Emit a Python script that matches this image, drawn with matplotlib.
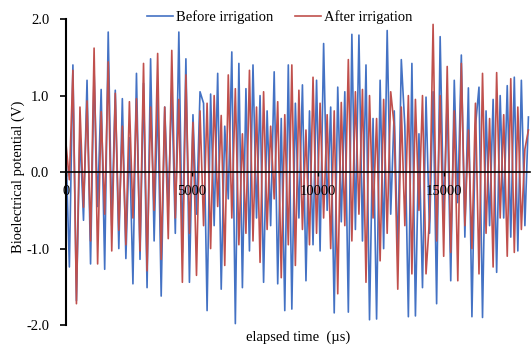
import numpy as np
import matplotlib
matplotlib.use("Agg")
import matplotlib.pyplot as plt

plt.rcParams['font.family'] = ['Liberation Serif', 'DejaVu Serif']

# sampling step of the recorded signals (µs)
step_us = 140

before = [0.35, -1.24, 1.40, -1.68, 0.52, -0.63, 1.20, -1.20, 1.32, -0.45,
          1.08, -1.27, 1.83, -0.70, 1.07, -1.00, 0.96, -1.13, 0.45, -1.46,
          1.29, -1.14, 1.16, -1.51, 1.48, -0.90, 1.00, -1.62, 0.85, -0.45,
          1.10, -0.80, 1.83, -1.05, 1.48, -1.44, 0.75, -0.55, 1.05, 0.90,
          -1.81, 1.02, -0.70, 1.29, -1.53, 0.60, -0.35, 1.57, -1.98, 1.42,
          -1.51, 1.09, -1.03, 1.40, -0.60, 1.00, -1.44, 0.80, -0.70, 1.31,
          -1.46, 0.70, -1.81, 1.40, -1.79, 0.90, -0.60, 1.14, -1.42, 0.80,
          -0.95, 1.20, -1.03, 1.68, -0.50, 0.85, -1.84, 1.11, -0.65, 1.05,
          -1.83, 1.80, -0.75, 1.79, -0.90, 1.40, -1.93, 0.70, -1.92, 1.20,
          -1.00, 1.85, -0.55, 0.80, -1.10, 1.47, 0.60, -1.89, 1.42, -1.88,
          0.50, -1.51, 0.98, -0.80, 1.05, -1.72, 1.77, -0.60, 0.95, -1.42,
          1.20, -0.40, 1.53, -0.85, 1.10, -1.89, 0.60, 1.11, -1.90, 0.80,
          -0.70, 0.95, -1.31, 1.00, -0.60, 1.13, -0.85, 1.24, -1.03, 1.20,
          -0.70, 0.72]

after = [0.39, -0.10, 1.33, -1.72, 0.85, -0.46, 0.93, -0.90, 1.62, -1.20,
         0.79, -0.55, 1.44, -1.03, 1.03, -0.76, 0.60, -0.95, 0.92, -0.60,
         0.96, -1.03, 1.42, -1.29, 0.85, -0.50, 1.55, -1.14, 0.85, -0.87,
         1.59, -0.60, 0.95, -1.44, 1.27, -0.80, 0.65, -1.35, 0.80, -0.70,
         0.90, -1.00, 1.00, -0.45, 0.74, -1.22, 1.27, -0.60, 1.09, -0.95,
         0.50, -0.80, 1.33, -0.90, 0.85, -1.18, 1.05, -0.75, 0.60, -0.35,
         0.92, -1.38, 0.75, -0.95, 1.40, -1.22, 1.07, -0.75, 0.55, -0.95,
         1.24, -0.80, 0.90, -0.60, 0.75, -1.00, 0.80, -1.59, 0.91, -0.70,
         1.47, -0.90, 1.05, -0.55, 1.08, -1.44, 1.00, -0.60, 0.70, -1.16,
         0.95, -0.80, 1.05, 0.60, -1.53, 0.85, -0.70, 1.00, -1.33, 0.95,
         -0.50, 1.00, -1.33, -0.60, 1.93, -0.90, 1.00, -1.10, 1.38, -1.05,
         0.80, -1.42, 1.42, -0.70, 0.55, -1.00, 0.90, -1.33, 1.29, -0.80,
         0.70, -1.24, 1.30, -0.60, 0.75, -1.10, 1.22, -1.05, 0.85, -0.75,
         0.30, 0.55]

x_ticks = [0, 5000, 10000, 15000]
y_ticks = [-2.0, -1.0, 0.0, 1.0, 2.0]

t_before = np.arange(len(before)) * step_us
t_after = np.arange(len(after)) * step_us

fig = plt.figure(figsize=(5.31, 3.53), dpi=100)
ax = fig.add_axes([0.124, 0.079, 0.874, 0.867])
ax.set_axisbelow(False)

ax.plot(t_before, before, color='#4472C4', lw=1.2, label='Before irrigation')
ax.plot(t_after, after, color='#C0504D', lw=1.2, label='After irrigation')

ax.set_xlim(0, 18400)
ax.set_ylim(-2.0, 2.0)
ax.set_xticks(x_ticks)
ax.set_yticks(y_ticks)
ax.set_yticklabels([f'{v:.1f}' for v in y_ticks])

ax.spines['top'].set_visible(False)
ax.spines['right'].set_visible(False)
ax.spines['bottom'].set_position(('data', 0))
ax.spines['bottom'].set_zorder(3)
ax.spines['left'].set_linewidth(1.5)
ax.spines['bottom'].set_linewidth(1.2)
ax.tick_params(axis='y', direction='out', length=4, width=1.2, pad=8,
               labelsize=10.5)
ax.tick_params(axis='x', direction='out', length=3, width=1.0, pad=6,
               labelsize=10.5)

fig.text(0.034, 0.5, 'Bioelectrical potential (V)', rotation=90,
         ha='center', va='center', fontsize=10.5)
fig.text(0.561, 0.045, 'elapsed time  (µs)', ha='center', va='center',
         fontsize=10.5)

fig.legend(loc='center', bbox_to_anchor=(0.527, 0.952), ncol=2,
           frameon=False, fontsize=10.5, handlelength=1.8,
           handletextpad=0.2, columnspacing=1.5)

fig.savefig('out.png', dpi=100)
